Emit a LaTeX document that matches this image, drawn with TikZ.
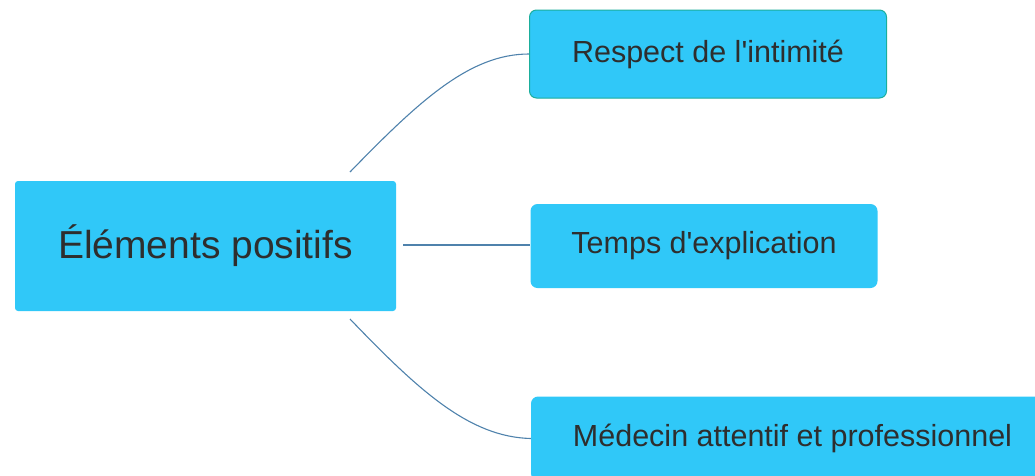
\documentclass[tikz,border=0pt]{standalone}
\usepackage{fontspec}
\setmainfont{Liberation Sans}
\definecolor{boxfill}{HTML}{30C8F8}
\definecolor{boxborder}{HTML}{1BAE9C}
\definecolor{linkcol}{HTML}{4F82AC}
\definecolor{txt}{HTML}{2E2E2E}
\tikzset{
  topic/.style={fill=boxfill, draw=none, text=txt, inner sep=0pt, align=center},
  maintopic/.style={topic, rounded corners=3pt, font=\fontsize{39}{47}\selectfont},
  subtopic/.style={topic, rounded corners=7pt, font=\fontsize{30.5}{37}\selectfont},
  link/.style={draw=linkcol, line width=1.1pt}
}
\begin{document}
\begin{tikzpicture}[x=1pt,y=-1pt]
\useasboundingbox (0,0) rectangle (1035,475);
\clip (0,0) rectangle (1035,475);
\node[maintopic, minimum width=381pt, minimum height=130pt] (main) at (205.5,246) {Éléments positifs};
\node[subtopic, draw=boxborder, line width=1pt, minimum width=357pt, minimum height=88pt] (top) at (708,54) {\raisebox{-2pt}{Respect de l\textquotesingle intimité}};
\node[subtopic, minimum width=347pt, minimum height=84pt] (mid) at (704,246) {\raisebox{-1pt}{Temps d\textquotesingle explication}};
\node[subtopic, minimum width=523pt, minimum height=84pt] (bot) at (792.5,438.5) {Médecin attentif et professionnel};
\coordinate (s1) at (350,172);
\coordinate (s2) at (403,245);
\coordinate (s3) at (350,319);
\draw[link] (s1) .. controls (420,100) and (470,54) .. (top.west);
\draw[link] (s2) -- (s2 -| mid.west);
\draw[link] (s3) .. controls (420,392) and (470,437) .. (bot.west);
\end{tikzpicture}
\end{document}
